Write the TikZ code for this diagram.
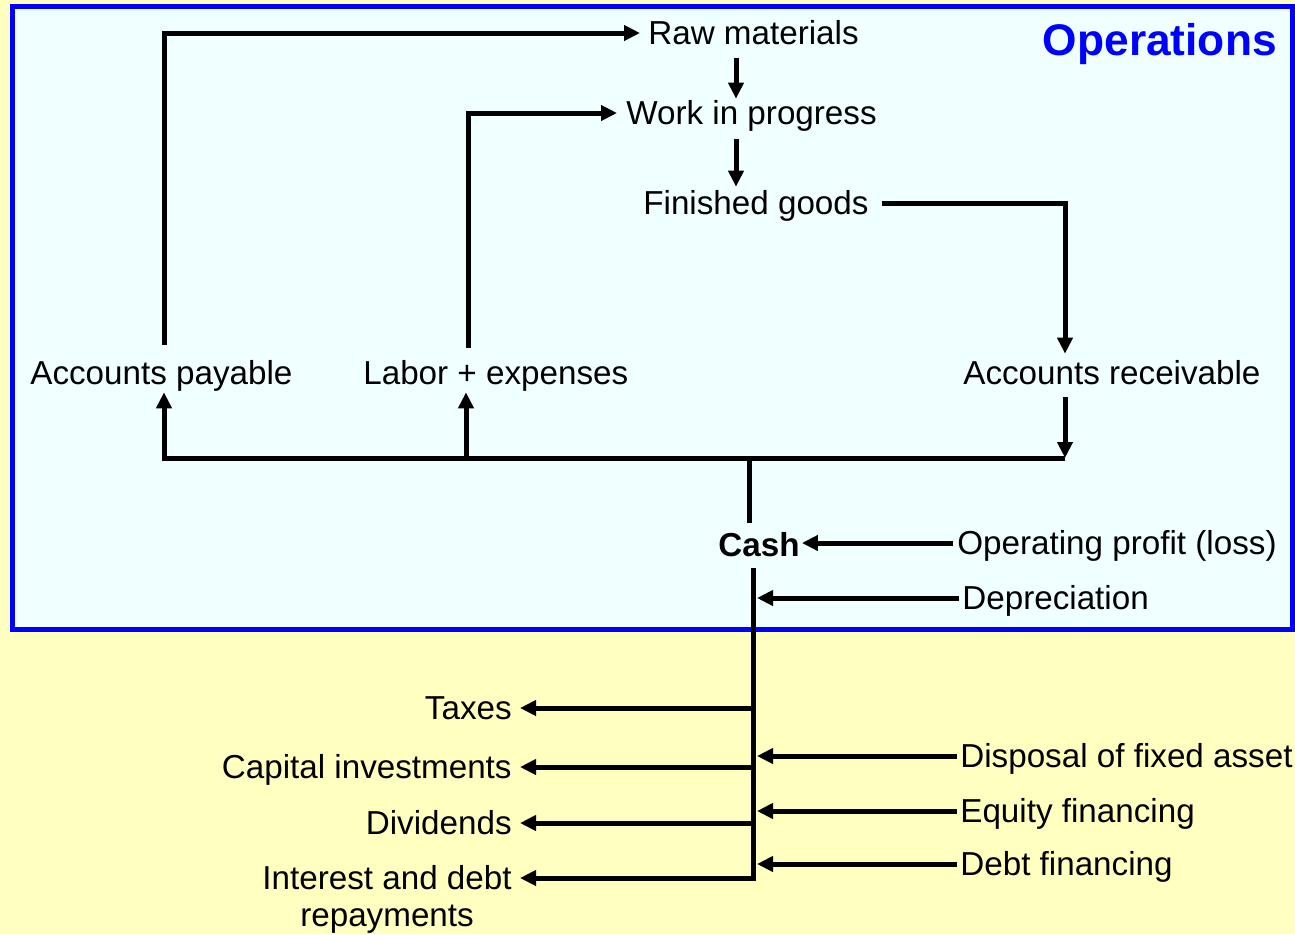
\documentclass[tikz,border=0pt]{standalone}
\usepackage{fontspec}
\setmainfont{Liberation Sans}
\usetikzlibrary{positioning,arrows.meta,calc}
\definecolor{paleyellow}{RGB}{255,255,192}
\definecolor{palecyan}{RGB}{240,255,255}

\begin{document}
\begin{tikzpicture}[x=0.02cm, y=-0.02cm, font=\fontsize{18.9}{21}\selectfont,
  lbl/.style={inner sep=0pt, text height=17.6pt, text depth=4pt},
  link/.style={line width=0.1cm},
  flow/.style={link, -{Triangle[length=0.32cm,width=0.3cm]}}]
	\useasboundingbox[fill=paleyellow] (0,0) rectangle (1295,934);
	\path[draw=blue, fill=palecyan, line width=0.1cm] (12.5,6) rectangle (1292,629.5);
	\node[inner sep=0pt, text height=23.4pt, text depth=5.3pt, anchor=east, text=blue, font=\fontsize{25.2}{28}\selectfont\bfseries] (ops) at (1277,40) {Operations};
	\node[lbl, anchor=west] (raw) at (648,33) {Raw materials};
	\node[lbl, anchor=west] (wip) at (626,113) {Work in progress};
	\node[lbl, anchor=west] (fin) at (643,203) {Finished goods};
	\foreach \x/\name/\txt in {30/ap/Accounts payable, 363/lab/Labor + expenses, 963/ar/Accounts receivable}
	  \node[lbl, anchor=west] (\name) at (\x,373) {\txt};
	\node[lbl, anchor=west, font=\fontsize{18.9}{21}\selectfont\bfseries] (cash) at (718,545) {Cash};
	\node[lbl, anchor=west] (opp) at (957,543) {Operating profit (loss)};
	\node[lbl, anchor=west] (dep) at (962,598) {Depreciation};
	\coordinate (busL) at (164,458);
	\coordinate (busM) at (466,458);
	\coordinate (busJ) at (749,458);
	\coordinate (busR) at (1065,458);
	\coordinate (cashEnd) at (753,878);
	\draw[flow, shorten <=0.18cm, shorten >=0.16cm] (ap.north -| busL) |- (raw.west);
	\draw[flow, shorten <=0.12cm, shorten >=-0.1cm] (raw.south -| 736,0) -- (wip.north -| 736,0);
	\draw[flow, shorten <=0.14cm, shorten >=-0.06cm] (wip.south -| 736,0) -- (fin.north -| 736,0);
	\draw[flow, shorten <=0.12cm, shorten >=0.18cm] (lab.north -| 468,0) |- (wip.west);
	\draw[flow, shorten <=0.26cm] (fin.east) -| (ar.north -| busR);
	\draw[flow, shorten <=0.1cm] (ar.south -| busR) -- (busR);
	\draw[flow] (busR) -- (busL) -- (ap.south -| busL);
	\draw[flow] (busM) -- (lab.south -| busM);
	\draw[link, shorten >=0.06cm] (busJ) -- (cash.north -| busJ);
	\draw[flow, shorten <=0.08cm, shorten >=0.04cm] (opp.west) -- (cash.east |- opp.west);
	\draw[flow, shorten <=0.06cm, shorten >=0.08cm] (dep.west) -- (dep.west -| cashEnd);
	\foreach \y/\name/\txt in {756/disp/Disposal of fixed asset, 811/eqf/Equity financing, 864/debt/Debt financing}{
	  \node[lbl, anchor=west] (\name) at (960,\y) {\txt};
	  \draw[flow, shorten <=0.06cm, shorten >=0.08cm] (\name.west) -- (\name.west -| cashEnd);}
	\foreach \y/\name/\txt in {708/tax/Taxes, 767/capx/Capital investments, 823/divd/Dividends}{
	  \node[lbl, anchor=east] (\name) at (512,\y) {\txt};
	  \draw[flow, shorten >=0.16cm] (\name.east -| cashEnd) -- (\name.east);}
	\node[inner sep=0pt, anchor=north east, align=center] (intr) at (512,865) {Interest and debt\\repayments};
	\draw[flow, shorten <=0.08cm, shorten >=0.16cm] (cash.south -| cashEnd) -- (cashEnd) -- (cashEnd -| intr.east);
\end{tikzpicture}
\end{document}
